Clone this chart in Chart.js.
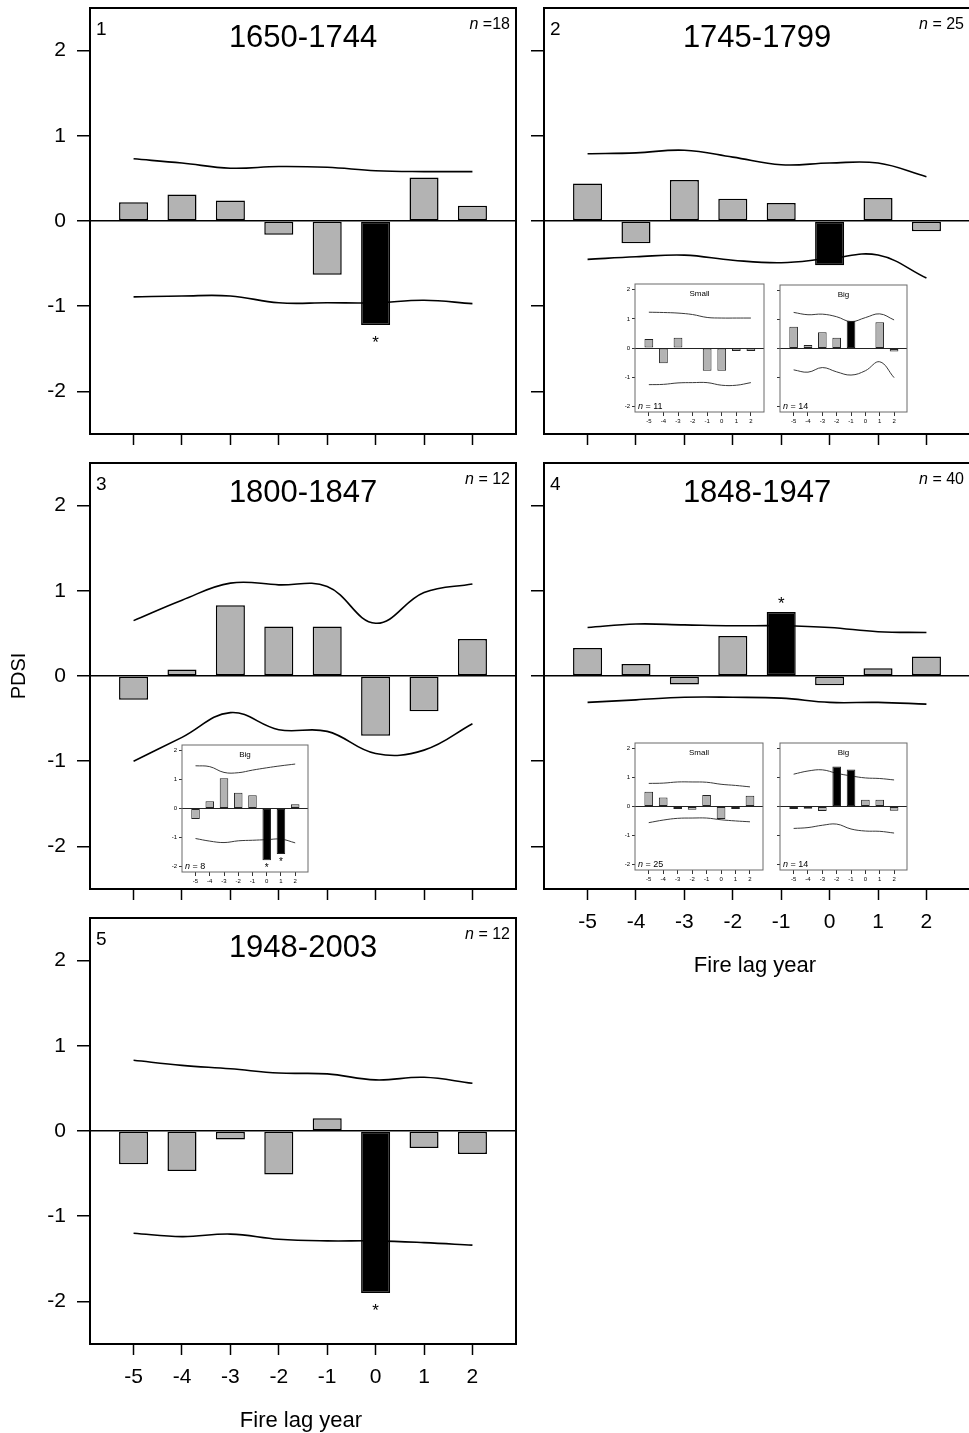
<!DOCTYPE html>
<html><head><meta charset="utf-8">
<script src="https://cdn.jsdelivr.net/npm/chart.js@4.4.1/dist/chart.umd.min.js"></script>
<style>
html,body{margin:0;padding:0;background:#fff;overflow:hidden;width:969px;height:1433px;}
#wrap{position:relative;width:969px;height:1433px;overflow:hidden;background:#fff;}
canvas{position:absolute;}
</style></head><body><div id="wrap"></div>
<script>
// ---------- data ----------
const lags = [-5, -4, -3, -2, -1, 0, 1, 2];
const lagLabels = ['-5', '-4', '-3', '-2', '-1', '0', '1', '2'];
const yTickValues = [-2, -1, 0, 1, 2];
const yTickLabels = ['-2', '-1', '0', '1', '2'];

// Panel 1: 1650-1744
const p1Bars  = [0.22, 0.31, 0.24, -0.16, -0.63, -1.22, 0.51, 0.18];
const p1Upper = [0.73, 0.68, 0.62, 0.64, 0.63, 0.59, 0.58, 0.58];
const p1Lower = [-0.89, -0.88, -0.88, -0.96, -0.96, -0.96, -0.93, -0.97];
const p1Sig   = [0, 0, 0, 0, 0, 1, 0, 0];
const p1Star  = [0, 0, 0, 0, 0, 1, 0, 0];

// Panel 2: 1745-1799
const p2Bars  = [0.44, -0.26, 0.48, 0.26, 0.21, -0.52, 0.27, -0.12];
const p2Upper = [0.79, 0.80, 0.83, 0.75, 0.66, 0.68, 0.68, 0.52];
const p2Lower = [-0.45, -0.42, -0.40, -0.46, -0.49, -0.44, -0.40, -0.67];
const p2Sig   = [0, 0, 0, 0, 0, 1, 0, 0];
const p2Star  = [0, 0, 0, 0, 0, 0, 0, 0];

// Panel 3: 1800-1847
const p3Bars  = [-0.28, 0.075, 0.83, 0.58, 0.58, -0.70, -0.415, 0.435];
const p3Upper = [0.65, 0.89, 1.09, 1.07, 1.05, 0.62, 0.98, 1.08];
const p3Lower = [-1.00, -0.72, -0.43, -0.63, -0.65, -0.91, -0.87, -0.56];
const p3Sig   = [0, 0, 0, 0, 0, 0, 0, 0];
const p3Star  = [0, 0, 0, 0, 0, 0, 0, 0];

// Panel 4: 1848-1947
const p4Bars  = [0.33, 0.14, -0.10, 0.47, 0.75, -0.11, 0.09, 0.23];
const p4Upper = [0.57, 0.61, 0.60, 0.59, 0.59, 0.57, 0.52, 0.51];
const p4Lower = [-0.31, -0.28, -0.25, -0.25, -0.26, -0.31, -0.31, -0.33];
const p4Sig   = [0, 0, 0, 0, 1, 0, 0, 0];
const p4Star  = [0, 0, 0, 0, 1, 0, 0, 0];

// Panel 5: 1948-2003
const p5Bars  = [-0.39, -0.47, -0.10, -0.51, 0.15, -1.90, -0.20, -0.27];
const p5Upper = [0.83, 0.77, 0.73, 0.68, 0.67, 0.60, 0.63, 0.56];
const p5Lower = [-1.20, -1.24, -1.21, -1.27, -1.29, -1.29, -1.31, -1.34];
const p5Sig   = [0, 0, 0, 0, 0, 1, 0, 0];
const p5Star  = [0, 0, 0, 0, 0, 1, 0, 0];

// Inset: panel 2 Small
const p2sBars  = [0.31, -0.52, 0.35, 0, -0.78, -0.78, -0.10, -0.10];
const p2sUpper = [1.23, 1.22, 1.20, 1.15, 1.05, 1.03, 1.03, 1.03];
const p2sLower = [-1.26, -1.25, -1.20, -1.19, -1.19, -1.28, -1.28, -1.19];
const p2sSig   = [0, 0, 0, 0, 0, 0, 0, 0];
const p2sStar  = [0, 0, 0, 0, 0, 0, 0, 0];
// Inset: panel 2 Big
const p2bBars  = [0.75, 0.12, 0.56, 0.37, 0.96, 0, 0.91, -0.10];
const p2bUpper = [1.25, 1.17, 1.19, 1.10, 0.93, 1.07, 1.20, 0.99];
const p2bLower = [-0.74, -0.82, -0.66, -0.81, -0.92, -0.77, -0.46, -1.01];
const p2bSig   = [0, 0, 0, 0, 1, 0, 0, 0];
const p2bStar  = [0, 0, 0, 0, 0, 0, 0, 0];
// Inset: panel 3 Big
const p3bBars  = [-0.36, 0.25, 1.05, 0.55, 0.46, -1.79, -1.58, 0.15];
const p3bUpper = [1.48, 1.45, 1.25, 1.24, 1.33, 1.41, 1.48, 1.54];
const p3bLower = [-1.04, -1.13, -1.18, -1.12, -1.10, -1.08, -1.06, -1.19];
const p3bSig   = [0, 0, 0, 0, 0, 1, 1, 0];
const p3bStar  = [0, 0, 0, 0, 0, 1, 1, 0];
// Inset: panel 4 Small
const p4sBars  = [0.51, 0.31, -0.09, -0.115, 0.40, -0.43, -0.09, 0.37];
const p4sUpper = [0.80, 0.81, 0.85, 0.85, 0.84, 0.77, 0.73, 0.68];
const p4sLower = [-0.56, -0.47, -0.41, -0.40, -0.40, -0.46, -0.50, -0.53];
const p4sSig   = [0, 0, 0, 0, 0, 0, 0, 0];
const p4sStar  = [0, 0, 0, 0, 0, 0, 0, 0];
// Inset: panel 4 Big
const p4bBars  = [-0.09, -0.08, -0.16, 1.39, 1.28, 0.23, 0.23, -0.15];
const p4bUpper = [1.12, 1.23, 1.27, 1.15, 1.06, 0.99, 0.97, 0.92];
const p4bLower = [-0.76, -0.73, -0.65, -0.61, -0.78, -0.85, -0.86, -0.92];
const p4bSig   = [0, 0, 0, 1, 1, 0, 0, 0];
const p4bStar  = [0, 0, 0, 0, 0, 0, 0, 0];

// ---------- rendering ----------
const FF = '"Liberation Sans", Arial, Helvetica, sans-serif';
Chart.defaults.font.family = FF;
Chart.defaults.color = '#000';
const GRAY = '#b3b3b3';
const wrap = document.getElementById('wrap');

function makeCanvas(left, top, w, h) {
  const c = document.createElement('canvas');
  c.width = w; c.height = h;
  c.style.left = left + 'px'; c.style.top = top + 'px';
  c.style.width = w + 'px'; c.style.height = h + 'px';
  wrap.appendChild(c);
  return c;
}

function drawN(ctx, x, y, rest, size, align) {
  ctx.font = 'italic ' + size + 'px ' + FF;
  const w1 = ctx.measureText('n').width;
  ctx.font = size + 'px ' + FF;
  const w2 = ctx.measureText(rest).width;
  let sx = align === 'right' ? x - w1 - w2 : x;
  ctx.textAlign = 'left';
  ctx.font = 'italic ' + size + 'px ' + FF;
  ctx.fillText('n', sx, y);
  ctx.font = size + 'px ' + FF;
  ctx.fillText(rest, sx + w1, y);
}

const annot = {
  id: 'annot',
  beforeDraw(chart, args, o) {
    if (o.bg) {
      const a = chart.chartArea, ctx = chart.ctx;
      ctx.save(); ctx.fillStyle = '#fff';
      ctx.fillRect(a.left, a.top, a.right - a.left, a.bottom - a.top);
      ctx.restore();
    }
  },
  afterDraw(chart, args, o) {
    const a = chart.chartArea, ctx = chart.ctx;
    ctx.save();
    ctx.strokeStyle = o.frameColor; ctx.lineWidth = o.frameWidth;
    ctx.strokeRect(a.left, a.top, a.right - a.left, a.bottom - a.top);
    ctx.fillStyle = '#000';
    const cx = (a.left + a.right) / 2;
    if (o.kind === 'main') {
      ctx.textBaseline = 'middle';
      ctx.font = '19px ' + FF; ctx.textAlign = 'left';
      ctx.fillText(o.num, a.left + 6, a.top + 22);
      ctx.font = '31px ' + FF; ctx.textAlign = 'center';
      ctx.fillText(o.title, cx, a.top + 30);
      drawN(ctx, a.right - 6, a.top + 17, o.nRest, 16, 'right');
      if (o.xTitle) {
        ctx.textBaseline = 'alphabetic'; ctx.textAlign = 'center';
        ctx.font = '22px ' + FF;
        ctx.fillText(o.xTitle, cx - 2, a.bottom + 83);
      }
      if (o.yTitle) {
        ctx.save();
        ctx.translate(19, (a.top + a.bottom) / 2);
        ctx.rotate(-Math.PI / 2);
        ctx.textAlign = 'center'; ctx.textBaseline = 'middle';
        ctx.font = '20px ' + FF;
        ctx.fillText(o.yTitle, 0, 0);
        ctx.restore();
      }
    } else {
      ctx.textBaseline = 'middle'; ctx.textAlign = 'center';
      ctx.font = '8px ' + FF;
      ctx.fillText(o.title, cx, a.top + 10);
      ctx.textBaseline = 'alphabetic';
      drawN(ctx, a.left + 3, a.bottom - 3, o.nRest, 9, 'left');
    }
    // asterisks
    const meta = chart.getDatasetMeta(0);
    ctx.textAlign = 'center'; ctx.textBaseline = 'alphabetic';
    ctx.font = o.starSize + 'px ' + FF;
    o.stars.forEach((s, i) => {
      if (!s) return;
      const el = meta.data[i];
      const v = chart.data.datasets[0].data[i].y;
      const y = v < 0 ? el.y + o.starBelow : el.y - o.starAbove;
      ctx.fillText('*', el.x, y);
    });
    ctx.restore();
  }
};

function buildDatasets(bars, upper, lower, sig, s) {
  return [
    { type: 'bar', data: lags.map((x, i) => ({ x, y: bars[i] })),
      backgroundColor: sig.map(v => v ? '#000' : GRAY),
      borderColor: s.barBorder, borderWidth: s.barBW, borderSkipped: false,
      barPercentage: 0.6, categoryPercentage: 1, order: 0 },
    { type: 'line', data: lags.map((x, i) => ({ x, y: upper[i] })),
      borderColor: s.lineColor, borderWidth: s.lineW, pointRadius: 0, tension: 0.4, fill: false, order: 1 },
    { type: 'line', data: lags.map((x, i) => ({ x, y: lower[i] })),
      borderColor: s.lineColor, borderWidth: s.lineW, pointRadius: 0, tension: 0.4, fill: false, order: 1 }
  ];
}

function zeroPad(s) { s.paddingTop = 0; s.paddingBottom = 0; s.paddingLeft = 0; s.paddingRight = 0; }

function mainChart(o) {
  const L = 90, T = 30, R = 4, B = 89, W = 426, H = 426;
  const canvas = makeCanvas(o.left - L, o.top - T, L + W + R, T + H + B);
  return new Chart(canvas, {
    type: 'bar',
    data: { datasets: buildDatasets(o.bars, o.upper, o.lower, o.sig,
      { barBorder: '#000', barBW: 1.5, lineColor: '#000', lineW: 1.6 }) },
    options: {
      responsive: false, animation: false, devicePixelRatio: 1, events: [],
      layout: { padding: { top: T, right: R, left: 0, bottom: 0 } },
      plugins: {
        legend: { display: false }, tooltip: { enabled: false },
        annot: { kind: 'main', frameColor: '#000', frameWidth: 2, num: o.num, title: o.title,
          nRest: o.nRest, xTitle: o.xTitle, yTitle: o.yTitle, stars: o.stars,
          starSize: 17, starBelow: 23, starAbove: 3 }
      },
      scales: {
        x: { type: 'linear', position: 'bottom', min: -5.9, max: 2.9, offset: false,
          afterBuildTicks: s => { s.ticks = lags.map(v => ({ value: v })); },
          afterFit: s => { s.height = B; zeroPad(s); },
          ticks: { display: o.xLabels, font: { size: 21 }, color: '#000', padding: 10,
            maxRotation: 0, autoSkip: false, callback: (v, i) => lagLabels[i] },
          grid: { drawOnChartArea: false, drawTicks: true, tickLength: 11, tickColor: '#000',
            tickWidth: 1.5, offset: false, color: '#000' },
          border: { display: false } },
        y: { type: 'linear', min: -2.5, max: 2.5,
          afterBuildTicks: s => { s.ticks = yTickValues.map(v => ({ value: v })); },
          afterFit: s => { s.width = L; zeroPad(s); },
          ticks: { display: o.yLabels, font: { size: 21 }, color: '#000', padding: 11,
            autoSkip: false, callback: (v, i) => yTickLabels[i] },
          grid: { color: c => (c.tick && c.tick.value === 0) ? '#000' : 'rgba(0,0,0,0)',
            lineWidth: 1.5, drawTicks: true, tickLength: 13, tickColor: '#000', tickWidth: 1.5 },
          border: { display: false } }
      }
    },
    plugins: [annot]
  });
}

function insetChart(o) {
  const L = 20, T = 8, R = 4, B = 16;
  const canvas = makeCanvas(o.left - L, o.top - T, L + o.w + R, T + o.h + B);
  return new Chart(canvas, {
    type: 'bar',
    data: { datasets: buildDatasets(o.bars, o.upper, o.lower, o.sig,
      { barBorder: '#222', barBW: 1, lineColor: '#3a3a3a', lineW: 1 }) },
    options: {
      responsive: false, animation: false, devicePixelRatio: 1, events: [],
      layout: { padding: { top: T, right: R, left: 0, bottom: 0 } },
      plugins: {
        legend: { display: false }, tooltip: { enabled: false },
        annot: { kind: 'inset', bg: true, frameColor: '#6a6a6a', frameWidth: 1, title: o.title,
          nRest: o.nRest, stars: o.stars, starSize: 10, starBelow: 11, starAbove: 2 }
      },
      scales: {
        x: { type: 'linear', position: 'bottom', min: -5.95, max: 2.9, offset: false,
          afterBuildTicks: s => { s.ticks = lags.map(v => ({ value: v })); },
          afterFit: s => { s.height = B; zeroPad(s); },
          ticks: { display: true, font: { size: 6 }, color: '#000', padding: 2,
            maxRotation: 0, autoSkip: false, callback: (v, i) => lagLabels[i] },
          grid: { drawOnChartArea: false, drawTicks: true, tickLength: 4, tickColor: '#333',
            tickWidth: 1, offset: false, color: '#333' },
          border: { display: false } },
        y: { type: 'linear', min: -2.2, max: 2.2,
          afterBuildTicks: s => { s.ticks = yTickValues.map(v => ({ value: v })); },
          afterFit: s => { s.width = L; zeroPad(s); },
          ticks: { display: o.yLabels, font: { size: 6 }, color: '#000', padding: 2,
            autoSkip: false, callback: (v, i) => yTickLabels[i] },
          grid: { color: c => (c.tick && c.tick.value === 0) ? '#222' : 'rgba(0,0,0,0)',
            lineWidth: 1, drawTicks: true, tickLength: 3, tickColor: '#333', tickWidth: 1 },
          border: { display: false } }
      }
    },
    plugins: [annot]
  });
}

// main panels
mainChart({ left: 90, top: 8, bars: p1Bars, upper: p1Upper, lower: p1Lower, sig: p1Sig, stars: p1Star,
  num: '1', title: '1650-1744', nRest: ' =18', xLabels: false, yLabels: true });
mainChart({ left: 544, top: 8, bars: p2Bars, upper: p2Upper, lower: p2Lower, sig: p2Sig, stars: p2Star,
  num: '2', title: '1745-1799', nRest: ' = 25', xLabels: false, yLabels: false });
mainChart({ left: 90, top: 463, bars: p3Bars, upper: p3Upper, lower: p3Lower, sig: p3Sig, stars: p3Star,
  num: '3', title: '1800-1847', nRest: ' = 12', xLabels: false, yLabels: true, yTitle: 'PDSI' });
mainChart({ left: 544, top: 463, bars: p4Bars, upper: p4Upper, lower: p4Lower, sig: p4Sig, stars: p4Star,
  num: '4', title: '1848-1947', nRest: ' = 40', xLabels: true, yLabels: false, xTitle: 'Fire lag year' });
mainChart({ left: 90, top: 918, bars: p5Bars, upper: p5Upper, lower: p5Lower, sig: p5Sig, stars: p5Star,
  num: '5', title: '1948-2003', nRest: ' = 12', xLabels: true, yLabels: true, xTitle: 'Fire lag year' });

// insets
insetChart({ left: 635, top: 284, w: 129, h: 128, bars: p2sBars, upper: p2sUpper, lower: p2sLower,
  sig: p2sSig, stars: p2sStar, title: 'Small', nRest: ' = 11', yLabels: true });
insetChart({ left: 780, top: 285, w: 127, h: 127, bars: p2bBars, upper: p2bUpper, lower: p2bLower,
  sig: p2bSig, stars: p2bStar, title: 'Big', nRest: ' = 14', yLabels: false });
insetChart({ left: 182, top: 745, w: 126, h: 127, bars: p3bBars, upper: p3bUpper, lower: p3bLower,
  sig: p3bSig, stars: p3bStar, title: 'Big', nRest: ' = 8', yLabels: true });
insetChart({ left: 635, top: 743, w: 128, h: 127, bars: p4sBars, upper: p4sUpper, lower: p4sLower,
  sig: p4sSig, stars: p4sStar, title: 'Small', nRest: ' = 25', yLabels: true });
insetChart({ left: 780, top: 743, w: 127, h: 127, bars: p4bBars, upper: p4bUpper, lower: p4bLower,
  sig: p4bSig, stars: p4bStar, title: 'Big', nRest: ' = 14', yLabels: false });
</script>
</body></html>
